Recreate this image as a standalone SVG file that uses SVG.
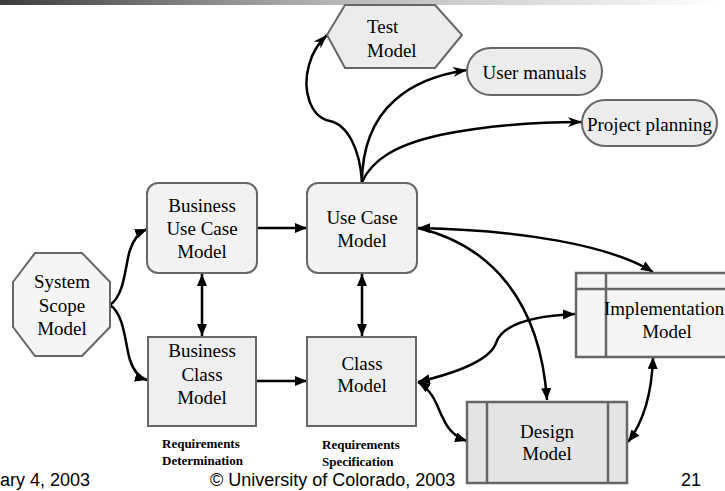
<svg xmlns="http://www.w3.org/2000/svg" width="725" height="491" viewBox="0 0 725 491">
<defs>
<linearGradient id="bar" x1="0" y1="0" x2="1" y2="0">
<stop offset="0" stop-color="#3c3c3c"/>
<stop offset="0.45" stop-color="#b4b4b4"/>
<stop offset="1" stop-color="#ffffff"/>
</linearGradient>
<marker id="tri" viewBox="0 0 12 10" refX="12" refY="5" markerWidth="12" markerHeight="10" markerUnits="userSpaceOnUse" orient="auto-start-reverse">
<path d="M0,0 L12,5 L0,10 z" fill="#000"/>
</marker>
<marker id="stealth" viewBox="0 0 14 10" refX="14" refY="5" markerWidth="14" markerHeight="10" markerUnits="userSpaceOnUse" orient="auto-start-reverse">
<path d="M0,0 L14,5 L0,10 L4,5 z" fill="#000"/>
</marker>
</defs>
<style>
.t{font-family:"Liberation Serif","Times New Roman",serif;font-size:19px;fill:#000;text-anchor:middle}
.ts{font-family:"Liberation Serif","Times New Roman",serif;font-size:13px;font-weight:bold;fill:#000}
.f{font-family:"Liberation Sans",Arial,sans-serif;font-size:18px;fill:#000}
.n{stroke:#666;stroke-width:2}
.c{fill:none;stroke:#000;stroke-width:2.5}
</style>
<rect x="0" y="0" width="725" height="5" fill="url(#bar)"/>

<g id="connectors">
<path class="c" d="M362,182 C360,150 348,125 330,121 C310,117 302,90 309,65 C313,50 320,42 327,35" marker-end="url(#stealth)"/>
<path class="c" d="M362,182 C362,150 372,120 395,100 C415,82 440,74 467,70" marker-end="url(#stealth)"/>
<path class="c" d="M362,182 C372,160 395,145 440,135 C490,125 540,122 582,122" marker-end="url(#stealth)"/>
<path class="c" d="M257,228 L307,228" marker-end="url(#tri)"/>
<path class="c" d="M256,381 L307,381" marker-end="url(#tri)"/>
<path class="c" d="M202,274 L202,336" marker-start="url(#tri)" marker-end="url(#tri)"/>
<path class="c" d="M362,274 L362,336" marker-start="url(#tri)" marker-end="url(#tri)"/>
<path class="c" d="M110,305 C125,295 125,265 130,250 C134,238 140,232 147,229" marker-end="url(#tri)"/>
<path class="c" d="M110,305 C125,315 125,345 130,360 C134,372 140,378 147,380" marker-end="url(#tri)"/>
<path class="c" d="M418,228 C520,230 610,245 653,272" marker-start="url(#tri)" marker-end="url(#tri)"/>
<path class="c" d="M418,228 C490,245 540,300 547,400" marker-end="url(#tri)"/>
<path class="c" d="M418,382 C460,372 490,360 496,343 C502,325 530,316 575,314" marker-start="url(#tri)" marker-end="url(#tri)"/>
<path class="c" d="M418,382 C435,392 438,410 443,418 C448,430 455,437 467,441" marker-start="url(#tri)" marker-end="url(#tri)"/>
<path class="c" d="M653,357 C652,390 645,420 628,442" marker-start="url(#tri)" marker-end="url(#tri)"/>
</g>

<g id="test-model">
<polygon class="n" points="327,35 345,5 435,5 462,35 435,68 345,68" fill="#ececec"/>
<text class="t" x="367" y="33" style="text-anchor:start">Test</text>
<text class="t" x="367" y="57" style="text-anchor:start">Model</text>
</g>
<g id="user-manuals">
<rect class="n" x="467" y="48" width="135" height="47" rx="23.5" fill="#ececec"/>
<text class="t" x="534.5" y="79">User manuals</text>
</g>
<g id="project-planning">
<rect class="n" x="582" y="100" width="135" height="46" rx="23" fill="#ececec"/>
<text class="t" x="649.5" y="131">Project planning</text>
</g>
<g id="system-scope-model">
<polygon class="n" points="35,253 82,253 110,282 110,327 82,356 35,356 13,327 13,282" fill="#f5f5f5" stroke-width="1.5"/>
<text class="t" x="62" y="288">System</text>
<text class="t" x="62" y="312">Scope</text>
<text class="t" x="62" y="335">Model</text>
</g>
<g id="business-use-case-model">
<rect class="n" x="147" y="183" width="110" height="90" rx="11" fill="#f2f2f2"/>
<text class="t" x="202" y="212">Business</text>
<text class="t" x="202" y="235">Use Case</text>
<text class="t" x="202" y="258">Model</text>
</g>
<g id="use-case-model">
<rect class="n" x="307" y="183" width="110" height="90" rx="11" fill="#f2f2f2"/>
<text class="t" x="362" y="224">Use Case</text>
<text class="t" x="362" y="247">Model</text>
</g>
<g id="business-class-model">
<rect class="n" x="148" y="337" width="108" height="89" fill="#eeeeee" stroke="#808080" stroke-width="2.5"/>
<text class="t" x="202" y="357">Business</text>
<text class="t" x="202" y="381">Class</text>
<text class="t" x="202" y="404">Model</text>
</g>
<g id="class-model">
<rect class="n" x="307" y="337" width="109" height="89" fill="#eeeeee" stroke="#808080" stroke-width="2.5"/>
<text class="t" x="362" y="370">Class</text>
<text class="t" x="362" y="392">Model</text>
</g>
<g id="implementation-model">
<rect x="576" y="273" width="160" height="84" fill="#f5f5f5" stroke="#666" stroke-width="2.5"/>
<line x1="606" y1="273" x2="606" y2="357" stroke="#666" stroke-width="2.5"/>
<line x1="576" y1="289" x2="736" y2="289" stroke="#666" stroke-width="2.5"/>
<text class="t" x="604" y="315" style="text-anchor:start">Implementation</text>
<text class="t" x="667" y="338">Model</text>
</g>
<g id="design-model">
<rect x="467" y="402" width="160" height="81" fill="#e4e4e4" stroke="#666" stroke-width="2.5"/>
<line x1="487" y1="402" x2="487" y2="483" stroke="#666" stroke-width="2.5"/>
<line x1="608" y1="402" x2="608" y2="483" stroke="#666" stroke-width="2.5"/>
<text class="t" x="547" y="438">Design</text>
<text class="t" x="547" y="460">Model</text>
</g>

<g id="labels">
<text class="ts" x="162" y="448">Requirements</text>
<text class="ts" x="162" y="465">Determination</text>
<text class="ts" x="322" y="449">Requirements</text>
<text class="ts" x="322" y="466">Specification</text>
</g>
<g id="footer">
<text class="f" x="0" y="486">ary 4, 2003</text>
<text class="f" x="210" y="486">© University of Colorado, 2003</text>
<text class="f" x="681" y="486">21</text>
</g>
</svg>
